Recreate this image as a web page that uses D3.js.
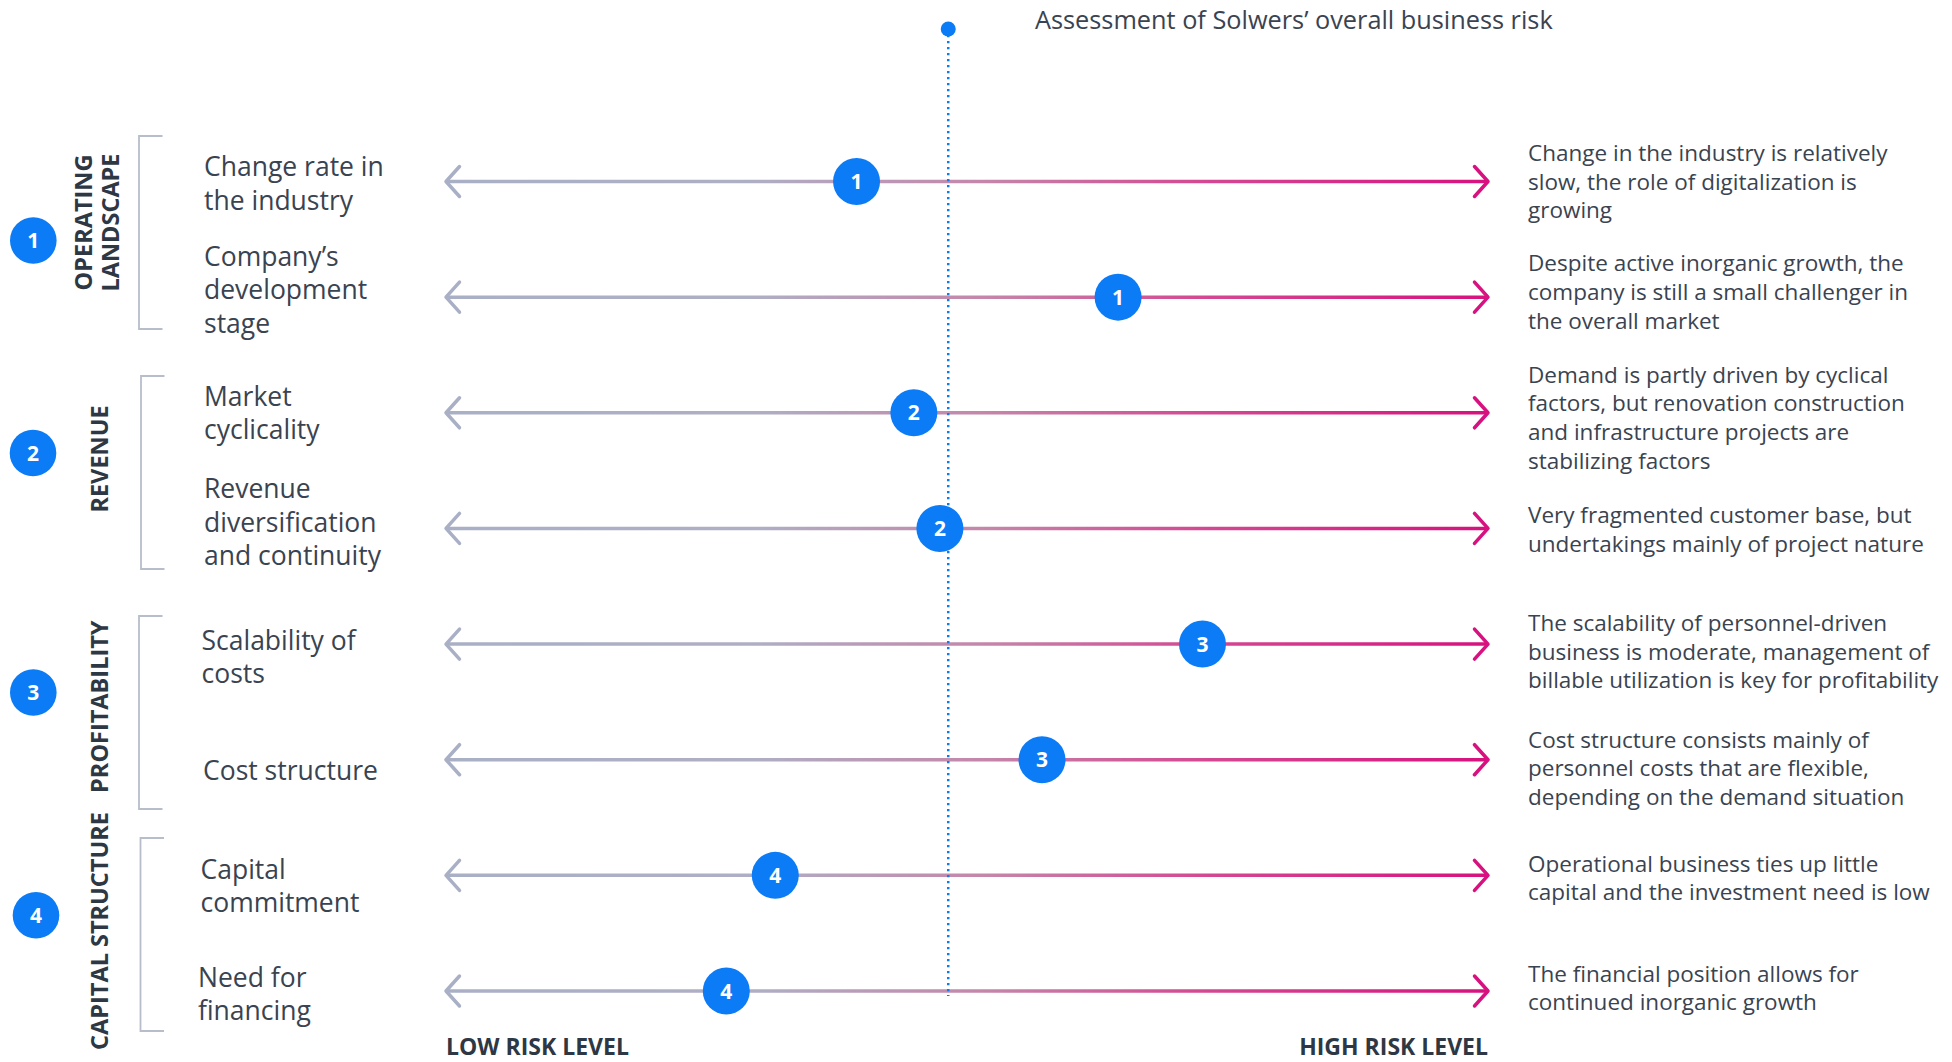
<!DOCTYPE html>
<html>
<head>
<meta charset="utf-8">
<script src="https://cdn.jsdelivr.net/npm/d3@7"></script>
<style>
  html, body { margin: 0; padding: 0; background: #ffffff; }
  svg { display: block; }
  text { font-family: "Open Sans", Lato, sans-serif; }
</style>
</head>
<body>
<svg id="chart" width="1952" height="1062"></svg>
<script>
// ---------------- DATA ----------------
const title = "Assessment of Solwers\u2019 overall business risk";
const categoryLines = [
  ["Change rate in", "the industry"],
  ["Company\u2019s", "development", "stage"],
  ["Market", "cyclicality"],
  ["Revenue", "diversification", "and continuity"],
  ["Scalability of", "costs"],
  ["Cost structure"],
  ["Capital", "commitment"],
  ["Need for", "financing"]
];
const riskValues = [3.94, 6.45, 4.49, 4.74, 7.26, 5.72, 3.16, 2.69];
const overallRisk = 4.82;
const categoryGroup = [1, 1, 2, 2, 3, 3, 4, 4];
const groupIds = [1, 2, 3, 4];
const groupNames = [["OPERATING", "LANDSCAPE"], ["REVENUE"], ["PROFITABILITY"], ["CAPITAL STRUCTURE"]];
const descriptionLines = [
  ["Change in the industry is relatively", "slow, the role of digitalization is", "growing"],
  ["Despite active inorganic growth, the", "company is still a small challenger in", "the overall market"],
  ["Demand is partly driven by cyclical", "factors, but renovation construction", "and infrastructure projects are", "stabilizing factors"],
  ["Very fragmented customer base, but", "undertakings mainly of project nature"],
  ["The scalability of personnel-driven", "business is moderate, management of", "billable utilization is key for profitability"],
  ["Cost structure consists mainly of", "personnel costs that are flexible,", "depending on the demand situation"],
  ["Operational business ties up little", "capital and the investment need is low"],
  ["The financial position allows for", "continued inorganic growth"]
];
const axisLabels = ["LOW RISK LEVEL", "HIGH RISK LEVEL"];
const riskDomain = [0, 10];

// ---------------- LAYOUT ----------------
const W = 1952, H = 1062;
const blue = "#0b7bf6";
const textColor = "#3a4350";
const headColor = "#2e3844";
const svg = d3.select("#chart");

const x = d3.scaleLinear().domain(riskDomain).range([446, 1488]);
const y = d3.scalePoint().domain(d3.range(categoryLines.length)).range([181.5, 991]);

// small per-row nudges of the text blocks (layout only)
const labelDy = [2, -7.5, 0, -6, 13, 11, 10.5, 3];
const labelDx = [0, 0, 0, 0, -2.5, -1, -3.5, -6];
const descDy = [0, -5, 5, 1, 7.5, 8.5, 2.5, -3];

// gradient for the arrow lines
const defs = svg.append("defs");
const grad = defs.append("linearGradient")
  .attr("id", "riskGrad")
  .attr("gradientUnits", "userSpaceOnUse")
  .attr("x1", x(riskDomain[0])).attr("x2", x(riskDomain[1]))
  .attr("y1", 0).attr("y2", 0);
[[0, "#a9b0c6"], [0.3, "#afaec4"], [0.52, "#c585a9"], [0.72, "#d34a93"], [1, "#d7117f"]]
  .forEach(([o, c]) => grad.append("stop").attr("offset", o).attr("stop-color", c));

// title
svg.append("text")
  .attr("x", 1035).attr("y", 29)
  .attr("font-size", 25.3)
  .attr("fill", textColor)
  .text(title);

// rows
const rows = svg.append("g").selectAll("g.row")
  .data(riskValues.map((v, i) => ({ v, i })))
  .join("g").attr("class", "row");

const x0 = x(riskDomain[0]), x1 = x(riskDomain[1]);
rows.append("line")
  .attr("x1", x0 + 1).attr("x2", x1 - 1)
  .attr("y1", d => y(d.i)).attr("y2", d => y(d.i))
  .attr("stroke", "url(#riskGrad)")
  .attr("stroke-width", 3.5);

rows.append("path")
  .attr("d", d => `M${x0 + 13.5},${y(d.i) - 15} L${x0},${y(d.i)} L${x0 + 13.5},${y(d.i) + 15}`)
  .attr("fill", "none").attr("stroke", "#a9b0c6")
  .attr("stroke-width", 3.5).attr("stroke-linecap", "round").attr("stroke-linejoin", "round");

rows.append("path")
  .attr("d", d => `M${x1 - 13.5},${y(d.i) - 15} L${x1},${y(d.i)} L${x1 - 13.5},${y(d.i) + 15}`)
  .attr("fill", "none").attr("stroke", "#d7117f")
  .attr("stroke-width", 3.5).attr("stroke-linecap", "round").attr("stroke-linejoin", "round");

// overall risk dotted line
svg.append("line")
  .attr("x1", x(overallRisk)).attr("x2", x(overallRisk))
  .attr("y1", 29).attr("y2", 996)
  .attr("stroke", blue).attr("stroke-width", 2.5)
  .attr("stroke-dasharray", "2.2,3.8");
svg.append("circle")
  .attr("cx", x(overallRisk)).attr("cy", 29).attr("r", 7.5).attr("fill", blue);

// risk badges
rows.append("circle")
  .attr("cx", d => x(d.v)).attr("cy", d => y(d.i)).attr("r", 23.5)
  .attr("fill", blue);
rows.append("text")
  .attr("x", d => x(d.v)).attr("y", d => y(d.i) + 7.5)
  .attr("text-anchor", "middle")
  .attr("font-size", 21).attr("font-weight", 700)
  .attr("fill", "#ffffff")
  .text(d => categoryGroup[d.i]);

// left category labels
const lhL = 33.5;
rows.append("text")
  .attr("font-size", 26.5)
  .attr("fill", textColor)
  .each(function (d) {
    const lines = categoryLines[d.i];
    const n = lines.length;
    const t = d3.select(this);
    lines.forEach((ln, k) => {
      t.append("tspan")
        .attr("x", 204 + labelDx[d.i])
        .attr("y", y(d.i) + labelDy[d.i] + (k - (n - 1) / 2) * lhL + 9.5)
        .text(ln);
    });
  });

// right descriptions
const lhR = 28.7;
rows.append("text")
  .attr("font-size", 22.5)
  .attr("fill", textColor)
  .each(function (d) {
    const lines = descriptionLines[d.i];
    const n = lines.length;
    const t = d3.select(this);
    lines.forEach((ln, k) => {
      t.append("tspan")
        .attr("x", 1528)
        .attr("y", y(d.i) + descDy[d.i] + (k - (n - 1) / 2) * lhR + 8)
        .text(ln);
    });
  });

// group brackets, badges and rotated labels
const bracketSpec = [
  { top: 136, bottom: 329, x: 139 },
  { top: 376, bottom: 569, x: 141 },
  { top: 616, bottom: 809, x: 139 },
  { top: 838, bottom: 1031, x: 140.5 }
];
const groupBadgeY = [240.5, 453, 692.5, 915.3];
const groupBadgeX = [33.3, 33, 33.3, 36];
const groupLabelX = [97, 99, 99, 99];
const groupLabelY = [222.5, 459, 706.7, 931];

const groups = svg.append("g").selectAll("g.grp")
  .data(groupIds.map((g, i) => ({ g, i })))
  .join("g").attr("class", "grp");

groups.append("path")
  .attr("d", d => {
    const b = bracketSpec[d.i];
    return `M${b.x + 23.5},${b.top} H${b.x} V${b.bottom} H${b.x + 23.5}`;
  })
  .attr("fill", "none").attr("stroke", "#b8bdcc").attr("stroke-width", 1.8);

groups.append("circle")
  .attr("cx", d => groupBadgeX[d.i]).attr("cy", d => groupBadgeY[d.i]).attr("r", 23.3)
  .attr("fill", blue);
groups.append("text")
  .attr("x", d => groupBadgeX[d.i]).attr("y", d => groupBadgeY[d.i] + 7.5)
  .attr("text-anchor", "middle")
  .attr("font-size", 21).attr("font-weight", 700)
  .attr("fill", "#ffffff")
  .text(d => d.g);

groups.append("text")
  .attr("transform", d => `translate(${groupLabelX[d.i]},${groupLabelY[d.i]}) rotate(-90)`)
  .attr("text-anchor", "middle")
  .attr("font-size", 23.5).attr("font-weight", 700)
  .attr("fill", headColor)
  .each(function (d) {
    const lines = groupNames[d.i];
    const n = lines.length;
    const t = d3.select(this);
    lines.forEach((ln, k) => {
      t.append("tspan")
        .attr("x", 0)
        .attr("y", (k - (n - 1) / 2) * 27.5 + 8.5)
        .text(ln);
    });
  });

// axis end labels
svg.append("text")
  .attr("x", x0).attr("y", 1054.5)
  .attr("font-size", 23).attr("font-weight", 700)
  .attr("fill", headColor)
  .text(axisLabels[0]);
svg.append("text")
  .attr("x", x1).attr("y", 1054.5)
  .attr("text-anchor", "end")
  .attr("font-size", 23).attr("font-weight", 700)
  .attr("fill", headColor)
  .text(axisLabels[1]);
</script>
</body>
</html>
